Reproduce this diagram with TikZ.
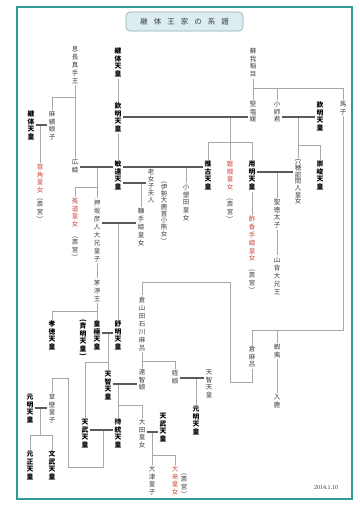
\documentclass[tikz,border=0pt]{standalone}
\usepackage{fontspec}
\usepackage{graphicx}
\setmainfont{Liberation Serif}
\newfontfamily\jp{Noto Sans CJK JP}
\definecolor{txtgray}{HTML}{3C3C3C}
\definecolor{redtxt}{HTML}{D0463A}
\definecolor{linegray}{HTML}{A8A8A8}
\definecolor{margray}{HTML}{5A5A5A}
\definecolor{frameteal}{HTML}{2F9C98}
\definecolor{titlefill}{HTML}{DCEDF0}
\definecolor{titledraw}{HTML}{90AAB5}
\makeatletter
\def\vt@lp{(}\def\vt@rp{)}
\newcommand\vt@par[1]{\kern.5pt\setbox\tw@\hbox{\rotatebox{-90}{#1}}\hbox to 8pt{\hss\raise\dp\tw@\box\tw@\hss}\kern.5pt}
\newcommand\vt[2][7.6pt]{%
 \vbox{\offinterlineskip\dimen@=#1\relax
  \@tfor\vt@c:=#2\do{%
   \ifx\vt@c\vt@lp \vt@par{(}\else\ifx\vt@c\vt@rp \vt@par{)}\else
   \hbox to 8pt{\hss\vrule height .8\dimen@ depth .2\dimen@ width\z@\vt@c\hss}\fi\fi}}}
\makeatother
\begin{document}
\begin{tikzpicture}[x=1pt,y=-1pt,
 vn/.style={inner sep=0.4pt, anchor=north, font=\jp\fontsize{6.5}{7}\selectfont, text=txtgray},
 emp/.style={vn, font=\jp\bfseries\fontsize{6.8}{7}\selectfont, text=black},
 redn/.style={vn, text=redtxt},
 rel/.style={draw=linegray, line width=0.8pt},
 mar/.style={draw=margray, line width=2.3pt},
 frame/.style={draw=frameteal, line width=1.4pt},
 titlebox/.style={draw=titledraw, fill=titlefill, rounded corners=4pt, line width=0.6pt,
   minimum width=117pt, minimum height=19pt, inner sep=0pt, text=txtgray,
   font=\jp\fontsize{7.5}{8}\selectfont}]
\useasboundingbox (0,0) rectangle (359,506);
\fill[white] (0,0) rectangle (359,506);
\draw[frame] (17,7) rectangle (352,499);
\node[titlebox] (title) at (184.5,21.5) {継\hspace{6pt}体\hspace{6pt}王\hspace{6pt}家\hspace{6pt}の\hspace{6pt}系\hspace{6pt}譜};
\node[font=\fontsize{6}{7}\selectfont, text=txtgray, inner sep=0pt] (date) at (326,488) {2014.1.10};

% nodes
\node[vn] (ookinaga) at (75,45) {\vt[7.8pt]{息長真手王}};
\node[emp] (keitai1) at (118,47) {\vt{継体天皇}};
\node[vn] (inamei) at (253,47) {\vt{蘇我稲目}};
\node[emp] (keitai2) at (31,110) {\vt{継体天皇}};
\node[vn] (omi) at (52,110) {\vt{麻績娘子}};
\node[redn] (sasage) at (40,163) {\vt{荳角皇女}};
\node[vn] (saigu1) at (40,197) {\vt{(斎宮)}};
\node[emp] (kinmei1) at (118,102) {\vt{欽明天皇}};
\node[vn] (katashi) at (253,100) {\vt{堅塩媛}};
\node[vn] (oane) at (277,100) {\vt{小姉君}};
\node[emp] (kinmei2) at (320,101) {\vt{欽明天皇}};
\node[vn] (umako) at (343,100) {\vt{馬子}};
\node[vn] (hirohime) at (75,158) {\vt{広姫}};
\node[emp] (bidatsu) at (118,160) {\vt{敏達天皇}};
\node[emp] (suiko) at (208,160) {\vt{推古天皇}};
\node[redn] (iwakuma) at (230,160) {\vt{磐隈皇女}};
\node[vn] (saigu2) at (230,197) {\vt{(斎宮)}};
\node[emp] (yomei) at (252,160) {\vt{用明天皇}};
\node[vn] (anahobe) at (298,158) {\vt[6.2pt]{穴穂部間人皇女}};
\node[emp] (sushun) at (320,160) {\vt{崇峻天皇}};
\node[vn] (oshisaka) at (97,198) {\vt[8pt]{押坂彦人大兄皇子}};
\node[redn] (uji) at (75,197) {\vt{菟道皇女}};
\node[vn] (saigu3) at (75,235) {\vt{(斎宮)}};
\node[vn] (oyoshi) at (151,168) {\vt[7pt]{老女子夫人}};
\node[vn] (ise) at (164,180) {\vt[6.5pt]{(伊勢大鹿首小熊女)}};
\node[vn] (nukate) at (141,207) {\vt[7.8pt]{糠手姫皇女}};
\node[vn] (owarida) at (186,183) {\vt[7.6pt]{小墾田皇女}};
\node[vn] (shotoku) at (277,198) {\vt{聖徳太子}};
\node[redn] (sukate) at (252,215) {\vt[7.8pt]{酢香手姫皇女}};
\node[vn] (saigu4) at (252,268) {\vt{(斎宮)}};
\node[vn] (yamashiro) at (277,255) {\vt[8pt]{山背大兄王}};
\node[vn] (chinu) at (97,278) {\vt[8pt]{茅渟王}};
\node[emp] (kotoku) at (52,320) {\vt{孝徳天皇}};
\node[emp] (saimei) at (83,318) {\vt{(斉明天皇)}};
\node[emp] (kogyoku) at (97,320) {\vt{皇極天皇}};
\node[emp] (jomei) at (118,320) {\vt{舒明天皇}};
\node[vn] (kurayamada) at (142,295) {\vt[8pt]{倉山田石川麻呂}};
\node[vn] (kuramaro) at (252,345) {\vt{倉麻呂}};
\node[vn] (emishi) at (277,343) {\vt{蝦夷}};
\node[vn] (iruka) at (277,393) {\vt{入鹿}};
\node[vn] (ochi) at (142,368) {\vt{遠智娘}};
\node[vn] (mei) at (175,369) {\vt{姪娘}};
\node[emp] (tenji1) at (108,370) {\vt{天智天皇}};
\node[vn] (tenji2) at (209,368) {\vt{天智天皇}};
\node[emp] (genmei1) at (196,405) {\vt{元明天皇}};
\node[emp] (tenmu1) at (85,418) {\vt{天武天皇}};
\node[emp] (jito) at (118,418) {\vt{持統天皇}};
\node[vn] (ota) at (142,418) {\vt{大田皇女}};
\node[emp] (tenmu2) at (163,412) {\vt{天武天皇}};
\node[vn] (otsu) at (152,465) {\vt{大津皇子}};
\node[redn] (oku) at (175,465) {\vt{大来皇女}};
\node[vn] (saigu5) at (184,472) {\vt{(斎宮)}};
\node[vn] (kusakabe) at (52,393) {\vt{草壁皇子}};
\node[emp] (genmei2) at (30,393) {\vt{元明天皇}};
\node[emp] (gensho) at (30,450) {\vt{元正天皇}};
\node[emp] (monmu) at (52,450) {\vt{文武天皇}};

% descent lines
\draw[rel] (keitai1.south) -- (kinmei1.north);
\draw[rel] (inamei.south) -- (katashi.north);
\draw[rel] (katashi.north |- 0,88) -| (umako.north);
\draw[rel] (oane.north |- 0,88) -- (oane.north);
\draw[rel] (ookinaga.south) -- (hirohime.north);
\draw[rel] (ookinaga.south |- 0,97) -| (omi.north);
\draw[rel] (sasage.north |- 0,125) -- (sasage.north);
\draw[rel] (iwakuma.north |- 0,117) -- (iwakuma.north);
\draw[rel] (suiko.north) |- (yomei.north |- 0,142) -- (yomei.north);
\draw[rel] (kinmei1.south) -- (bidatsu.north);
\draw[rel] (oshisaka.north |- 0,167) -- (oshisaka.north);
\draw[rel] (oshisaka.north |- 0,187) -| (uji.north);
\draw[rel] (owarida.north |- 0,167) -- (owarida.north);
\draw[rel] (nukate.north |- 0,183) -- (nukate.north);
\draw[rel] (jomei.north |- 0,223) -- (jomei.north);
\draw[rel] (oshisaka.south) -- (chinu.north);
\draw[rel] (chinu.south) -- (kogyoku.north);
\draw[rel] (kogyoku.north |- 0,311) -| (kotoku.north);
\draw[rel] (tenji1.north |- 0,333) -- (tenji1.north);
\draw[rel] (tenji1.north |- 0,362) -| (tenmu1.north);
\draw[rel] (anahobe.north |- 0,117) -- (anahobe.north);
\draw[rel] (anahobe.north |- 0,145) -| (sushun.north);
\draw[rel] (shotoku.north |- 0,172) -- (shotoku.north);
\draw[rel] (yomei.south) -- (sukate.north);
\draw[rel] (shotoku.south) -- (yamashiro.north);
\draw[rel] (umako.south) -- (umako.south |- 0,330) -| (kuramaro.north);
\draw[rel] (emishi.north |- 0,330) -- (emishi.north);
\draw[rel] (emishi.south) -- (iruka.north);
\draw[rel] (kuramaro.south) |- (230,382) -- (230,282) -| (kurayamada.north);
\draw[rel] (kurayamada.south) -- (ochi.north);
\draw[rel] (ochi.north |- 0,361) -| (mei.north);
\draw[rel] (jito.north |- 0,384) -- (jito.north);
\draw[rel] (jito.north |- 0,405) -| (ota.north);
\draw[rel] (genmei1.north |- 0,378) -- (genmei1.north);
\draw[rel] (103,430) -- (103,467) -- (68,467) -- (68,378) -| (kusakabe.north);
\draw[rel] (otsu.north |- 0,432) -- (otsu.north);
\draw[rel] (otsu.north |- 0,455) -| (oku.north);
\draw[rel] (40,408) -- (40,435);
\draw[rel] (gensho.north) |- (monmu.north |- 0,435) -- (monmu.north);

% marriage bars
\draw[mar] (keitai2.east |- 0,125) -- (omi.west |- 0,125);
\draw[mar] (kinmei1.east |- 0,117) -- (katashi.west |- 0,117);
\draw[mar] (hirohime.east |- 0,167) -- (bidatsu.west |- 0,167);
\draw[mar] (bidatsu.east |- 0,167) -- (suiko.west |- 0,167);
\draw[mar] (bidatsu.east |- 0,183) -- (oyoshi.west |- 0,183);
\draw[mar] (oshisaka.east |- 0,223) -- (nukate.west |- 0,223);
\draw[mar] (kogyoku.east |- 0,333) -- (jomei.west |- 0,333);
\draw[mar] (oane.east |- 0,117) -- (kinmei2.west |- 0,117);
\draw[mar] (yomei.east |- 0,172) -- (anahobe.west |- 0,172);
\draw[mar] (tenji1.east |- 0,384) -- (ochi.west |- 0,384);
\draw[mar] (mei.east |- 0,378) -- (tenji2.west |- 0,378);
\draw[mar] (tenmu1.east |- 0,430) -- (jito.west |- 0,430);
\draw[mar] (ota.east |- 0,432) -- (tenmu2.west |- 0,432);
\draw[mar] (genmei2.east |- 0,408) -- (kusakabe.west |- 0,408);
\end{tikzpicture}
\end{document}
